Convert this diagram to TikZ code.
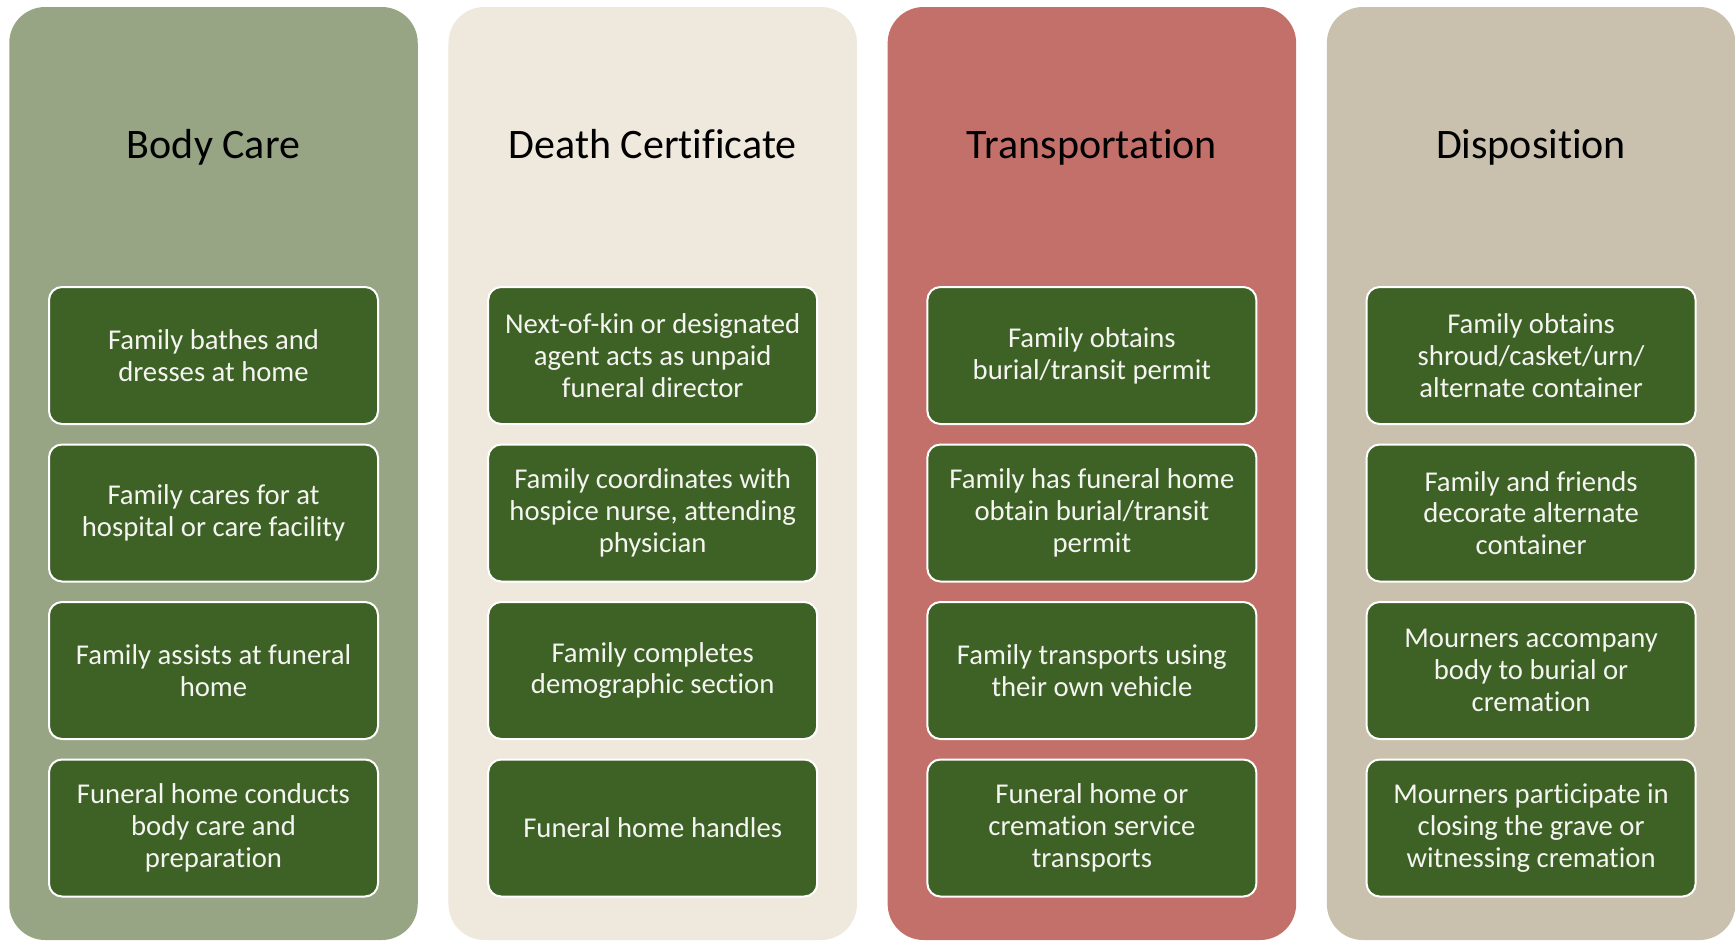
\documentclass[tikz,border=0pt]{standalone}
\usepackage{fontspec}
\setmainfont{Carlito}[Ligatures=NoCommon]
\definecolor{colA}{HTML}{97A585}
\definecolor{colB}{HTML}{EFE8DD}
\definecolor{colC}{HTML}{C3706A}
\definecolor{colD}{HTML}{C9C1AD}
\definecolor{boxgreen}{HTML}{3E6126}
\definecolor{boxtext}{HTML}{F4F4F0}
\tikzset{
  colbox/.style={rectangle, rounded corners=36pt, minimum width=408.5pt, minimum height=933pt, inner sep=0pt, draw=none},
  coltitle/.style={anchor=base, text=black, font=\fontsize{42}{46}\selectfont, inner sep=0pt},
  itembox/.style={rectangle, rounded corners=13pt, minimum width=329pt, minimum height=137pt, inner sep=0pt,
    fill=boxgreen, draw=white, line width=2pt, text=boxtext, align=center, font=\fontsize{28.7}{31.7}\selectfont}
}
\begin{document}
\begin{tikzpicture}[x=1pt,y=-1pt]
\useasboundingbox (0,0) rectangle (1735,940);
\fill[white] (0,0) rectangle (1735,940);
% columns
\node[colbox, fill=colA] (col1) at (213.5,473.5) {};
\node[colbox, fill=colB] (col2) at (652.7,473.5) {};
\node[colbox, fill=colC] (col3) at (1091.9,473.5) {};
\node[colbox, fill=colD] (col4) at (1531.1,473.5) {};
% titles
\node[coltitle] (t1) at (213.5,158) {Body Care};
\node[coltitle] (t2) at (652.7,158) {Death Certificate};
\node[coltitle] (t3) at (1091.9,158) {Transportation};
\node[coltitle] (t4) at (1531.1,158) {Disposition};
% column 1
\node[itembox] (b11) at (213.5,355.5) {Family bathes and\\dresses at home};
\node[itembox] (b12) at (213.5,513) {Family cares for at\\hospital or care facility};
\node[itembox] (b13) at (213.5,670.5) {Family assists at funeral\\home};
\node[itembox] (b14) at (213.5,828) {Funeral home conducts\\body care and\\preparation};
% column 2
\node[itembox] (b21) at (652.7,355.5) {Next-of-kin or designated\\agent acts as unpaid\\funeral director};
\node[itembox] (b22) at (652.7,513) {Family coordinates with\\hospice nurse, attending\\physician};
\node[itembox] (b23) at (652.7,670.5) {Family completes\\demographic section};
\node[itembox] (b24) at (652.7,828) {Funeral home handles};
% column 3
\node[itembox] (b31) at (1091.9,355.5) {Family obtains\\burial/transit permit};
\node[itembox] (b32) at (1091.9,513) {Family has funeral home\\obtain burial/transit\\permit};
\node[itembox] (b33) at (1091.9,670.5) {Family transports using\\their own vehicle};
\node[itembox] (b34) at (1091.9,828) {Funeral home or\\cremation service\\transports};
% column 4
\node[itembox] (b41) at (1531.1,355.5) {Family obtains\\shroud/casket/urn/\\alternate container};
\node[itembox] (b42) at (1531.1,513) {Family and friends\\decorate alternate\\container};
\node[itembox] (b43) at (1531.1,670.5) {Mourners accompany\\body to burial or\\cremation};
\node[itembox] (b44) at (1531.1,828) {Mourners participate in\\closing the grave or\\witnessing cremation};
\end{tikzpicture}
\end{document}
